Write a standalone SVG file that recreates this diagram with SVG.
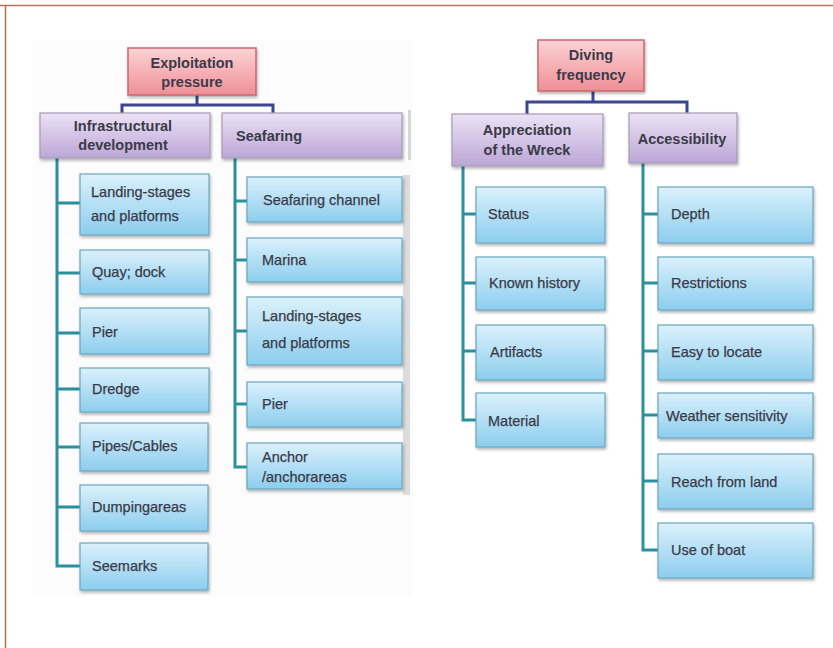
<svg xmlns="http://www.w3.org/2000/svg" width="833" height="648" viewBox="0 0 833 648">
<defs>
<linearGradient id="gPink" x1="0" y1="0" x2="0" y2="1"><stop offset="0" stop-color="#fbd3d5"/><stop offset="1" stop-color="#ef8f96"/></linearGradient>
<linearGradient id="gPurple" x1="0" y1="0" x2="0" y2="1"><stop offset="0" stop-color="#ece2f4"/><stop offset="1" stop-color="#bba6d6"/></linearGradient>
<linearGradient id="gBlue" x1="0" y1="0" x2="0" y2="1"><stop offset="0" stop-color="#dbf1fb"/><stop offset="1" stop-color="#8ccdee"/></linearGradient>
<filter id="sh" x="-10%" y="-10%" width="130%" height="140%"><feDropShadow dx="1" dy="2" stdDeviation="1.5" flood-color="#000" flood-opacity="0.3"/></filter>
</defs>
<style>
.root{fill:url(#gPink);stroke:#c9676d;stroke-width:1.5;filter:url(#sh)}
.mid{fill:url(#gPurple);stroke:#a799b6;stroke-width:1.2;filter:url(#sh)}
.leaf{fill:url(#gBlue);stroke:#6aa6bd;stroke-width:1.2;filter:url(#sh)}
text{font-family:"Liberation Sans",Arial,sans-serif;font-size:14.5px;fill:#3a3a48;stroke:#3a3a48;stroke-width:0.25}
.b{font-weight:bold;stroke-width:0}
.c{text-anchor:middle}
.lt{fill:none;stroke:#3c4590;stroke-width:3}
.lc{fill:none;stroke:#2b8f9c;stroke-width:3}
</style>
<rect width="833" height="648" fill="#fff"/>
<path d="M0 5.5H833M5.5 5V648" fill="none" stroke="#b7705a" stroke-width="1.5"/>
<rect x="33" y="40" width="380" height="556" fill="#f7f7f7" opacity="0.35"/>
<rect x="408" y="110" width="3" height="50" fill="#d6d6d6"/>
<rect x="403" y="175" width="7" height="320" fill="#dcdcdc"/>

<g id="connectors">
<path class="lt" d="M197 95V105M122 105H273M122 103.5V113M273 103.5V113"/>
<path class="lt" d="M593 91V102M527 102H687M527 100.5V114M687 100.5V113"/>
<path class="lc" d="M57 158V566M57 203H80M57 273H80M57 333H80M57 389H80M57 447H80M57 507H80M55.5 566H80"/>
<path class="lc" d="M235 158V467M235 201H247M235 260H247M235 331H247M235 404H247M233.5 467H247"/>
<path class="lc" d="M463 166V420M463 214H476M463 283H476M463 351H476M461.5 420H476"/>
<path class="lc" d="M643 163V550M643 214H658M643 283H658M643 351H658M643 415H658M643 481H658M641.5 550H658"/>
</g>

<g id="n-exploitation"><rect class="root" x="128" y="48" width="128" height="47"/><text class="b c" x="192" y="68" font-size="13">Exploitation</text><text class="b c" x="192" y="87" font-size="13">pressure</text></g>
<g id="n-infra"><rect class="mid" x="40" y="113" width="170" height="45"/><text class="b c" x="123" y="131" font-size="13.5">Infrastructural</text><text class="b c" x="123" y="150" font-size="13.5">development</text></g>
<g id="n-seafaring"><rect class="mid" x="222" y="113" width="180" height="45"/><text class="b" x="236" y="141" font-size="13.5">Seafaring</text></g>

<g id="n-landing1"><rect class="leaf" x="80" y="174" width="129" height="61"/><text x="91" y="197">Landing-stages</text><text x="91" y="221">and platforms</text></g>
<g id="n-quay"><rect class="leaf" x="80" y="250" width="129" height="44"/><text x="92" y="277">Quay; dock</text></g>
<g id="n-pier1"><rect class="leaf" x="80" y="308" width="129" height="46"/><text x="92" y="337">Pier</text></g>
<g id="n-dredge"><rect class="leaf" x="80" y="368" width="129" height="44"/><text x="92" y="394">Dredge</text></g>
<g id="n-pipes"><rect class="leaf" x="80" y="423" width="128" height="48"/><text x="92" y="451">Pipes/Cables</text></g>
<g id="n-dumping"><rect class="leaf" x="80" y="485" width="128" height="46"/><text x="92" y="512">Dumpingareas</text></g>
<g id="n-seemarks"><rect class="leaf" x="80" y="543" width="128" height="47"/><text x="92" y="571">Seemarks</text></g>

<g id="n-channel"><rect class="leaf" x="247" y="177" width="155" height="45"/><text x="263" y="205">Seafaring channel</text></g>
<g id="n-marina"><rect class="leaf" x="247" y="238" width="155" height="44"/><text x="262" y="265">Marina</text></g>
<g id="n-landing2"><rect class="leaf" x="247" y="297" width="155" height="68"/><text x="262" y="321">Landing-stages</text><text x="262" y="348">and platforms</text></g>
<g id="n-pier2"><rect class="leaf" x="247" y="382" width="155" height="45"/><text x="262" y="409">Pier</text></g>
<g id="n-anchor"><rect class="leaf" x="247" y="443" width="155" height="46"/><text x="262" y="462">Anchor</text><text x="262" y="482">/anchorareas</text></g>

<g id="n-diving"><rect class="root" x="538" y="40" width="106" height="51"/><text class="b c" x="591" y="60" font-size="13">Diving</text><text class="b c" x="591" y="80" font-size="13">frequency</text></g>
<g id="n-appreciation"><rect class="mid" x="452" y="114" width="151" height="52"/><text class="b c" x="527" y="135" font-size="13.5">Appreciation</text><text class="b c" x="527" y="155" font-size="13.5">of the Wreck</text></g>
<g id="n-accessibility"><rect class="mid" x="629" y="113" width="108" height="50"/><text class="b c" x="682" y="144" font-size="13.5">Accessibility</text></g>

<g id="n-status"><rect class="leaf" x="476" y="187" width="129" height="56"/><text x="488" y="219">Status</text></g>
<g id="n-history"><rect class="leaf" x="476" y="257" width="129" height="53"/><text x="489" y="288">Known history</text></g>
<g id="n-artifacts"><rect class="leaf" x="476" y="325" width="129" height="55"/><text x="490" y="357">Artifacts</text></g>
<g id="n-material"><rect class="leaf" x="476" y="393" width="129" height="54"/><text x="488" y="426">Material</text></g>

<g id="n-depth"><rect class="leaf" x="658" y="187" width="155" height="56"/><text x="671" y="219">Depth</text></g>
<g id="n-restrictions"><rect class="leaf" x="658" y="257" width="155" height="53"/><text x="671" y="288">Restrictions</text></g>
<g id="n-easy"><rect class="leaf" x="658" y="325" width="155" height="55"/><text x="671" y="357">Easy to locate</text></g>
<g id="n-weather"><rect class="leaf" x="658" y="393" width="155" height="45"/><text x="666" y="421">Weather sensitivity</text></g>
<g id="n-reach"><rect class="leaf" x="658" y="454" width="155" height="55"/><text x="671" y="487">Reach from land</text></g>
<g id="n-boat"><rect class="leaf" x="658" y="523" width="155" height="55"/><text x="671" y="555">Use of boat</text></g>
</svg>
